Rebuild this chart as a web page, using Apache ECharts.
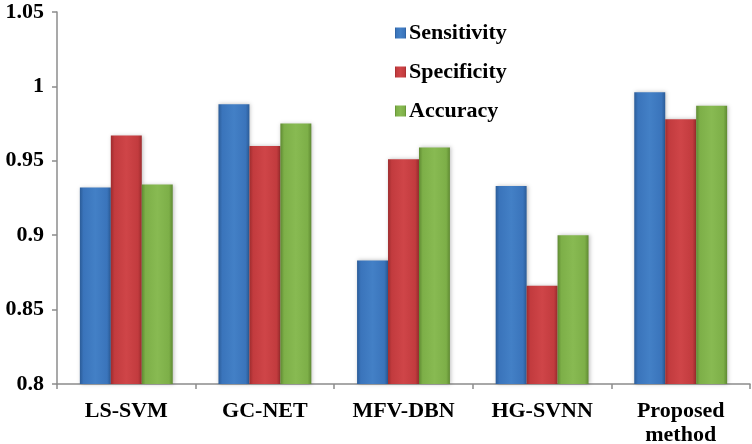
<!DOCTYPE html>
<html>
<head>
<meta charset="utf-8">
<script src="https://cdn.jsdelivr.net/npm/echarts@6/dist/echarts.min.js"></script>
<style>
html,body{margin:0;padding:0;background:#fff;}
#chart{width:752px;height:444px;}
</style>
</head>
<body>
<div id="chart"></div>
<script>
var categories = ['LS-SVM', 'GC-NET', 'MFV-DBN', 'HG-SVNN', 'Proposed\nmethod'];
var seriesNames = ['Sensitivity', 'Specificity', 'Accuracy'];
var sensitivity = [0.932, 0.988, 0.883, 0.933, 0.996];
var specificity = [0.967, 0.960, 0.951, 0.866, 0.978];
var accuracy = [0.934, 0.975, 0.959, 0.900, 0.987];
var yMin = 0.8, yMax = 1.05, yStep = 0.05;

function grad(dark, mid, light) {
  return new echarts.graphic.LinearGradient(0, 0, 1, 0, [
    {offset: 0, color: dark},
    {offset: 0.12, color: mid},
    {offset: 0.5, color: light},
    {offset: 0.88, color: mid},
    {offset: 1, color: dark}
  ]);
}
var colors = [
  grad('#2b5c98', '#3a74bb', '#4380c6'),
  grad('#9e2c2e', '#c23b3e', '#cf4548'),
  grad('#5f8a32', '#7daf48', '#88ba52')
];
var dataSets = [sensitivity, specificity, accuracy];
var font = '"Liberation Serif", "Times New Roman", serif';

var chart = echarts.init(document.getElementById('chart'));
chart.setOption({
  animation: false,
  backgroundColor: '#fff',
  grid: {left: 57, right: 2, top: 12, bottom: 60, containLabel: false, outerBoundsMode: 'none'},
  legend: {
    orient: 'vertical',
    left: 390,
    top: 17,
    itemGap: 17,
    itemWidth: 11,
    itemHeight: 11,
    icon: 'rect',
    textStyle: {fontFamily: font, fontWeight: 'bold', fontSize: 22, color: '#000', padding: [0, 0, 0, -2]},
    data: seriesNames
  },
  xAxis: {
    type: 'category',
    data: categories,
    axisLine: {lineStyle: {color: '#8c8c8c', width: 1.5}},
    axisTick: {show: true, length: 5, lineStyle: {color: '#8c8c8c', width: 1.5}},
    axisLabel: {fontFamily: font, fontWeight: 'bold', fontSize: 22, color: '#000', margin: 15, lineHeight: 24}
  },
  yAxis: {
    type: 'value',
    min: yMin,
    max: yMax,
    interval: yStep,
    splitLine: {show: false},
    axisLine: {show: true, lineStyle: {color: '#8c8c8c', width: 1.5}},
    axisTick: {show: true, length: 5, lineStyle: {color: '#8c8c8c', width: 1.5}},
    axisLabel: {fontFamily: font, fontWeight: 'bold', fontSize: 22, color: '#000', margin: 13}
  },
  series: seriesNames.map(function (n, i) {
    return {
      name: n,
      type: 'bar',
      data: dataSets[i],
      barGap: '0%',
      barCategoryGap: '33%',
      itemStyle: {
        color: colors[i],
        shadowColor: 'rgba(0,0,0,0.25)',
        shadowBlur: 4,
        shadowOffsetX: 1
      }
    };
  })
});
</script>
</body>
</html>
